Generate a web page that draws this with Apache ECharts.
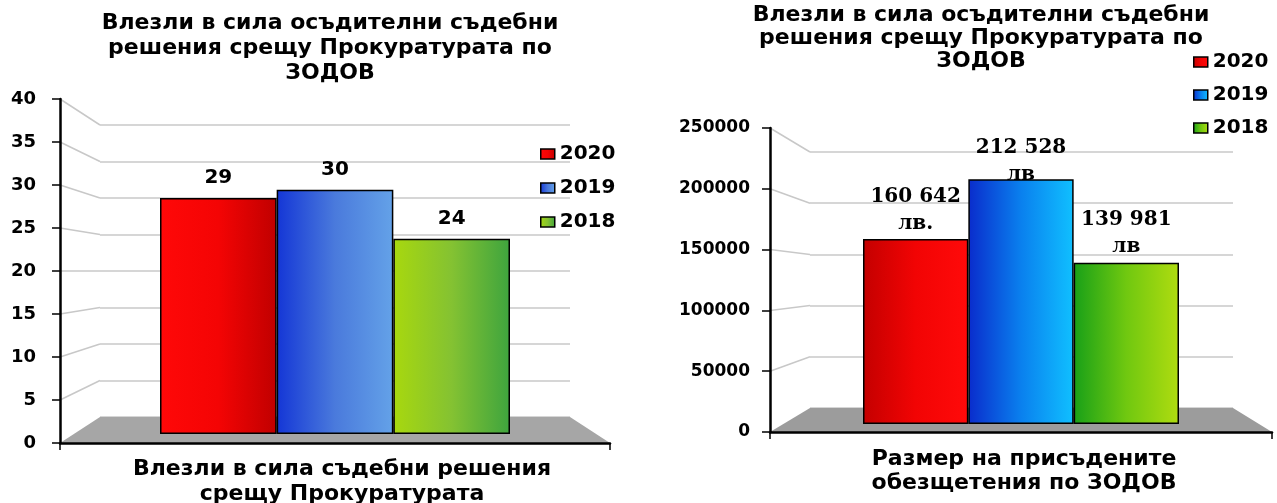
<!DOCTYPE html>
<html>
<head>
<meta charset="utf-8">
<script src="https://cdn.jsdelivr.net/npm/echarts@6/dist/echarts.min.js"></script>
<style>
  html, body { margin: 0; padding: 0; background: #fff; }
  #main { width: 1277px; height: 503px; }
</style>
</head>
<body>
<div id="main"></div>
<script>
// данни
const yearNames = ['2020', '2019', '2018'];
const countValues = [29, 30, 24];
const amountValues = [160642, 212528, 139981];
const amountLabels = ['160 642\nлв.', '212 528\nлв', '139 981\nлв'];
const countTicks = [0, 5, 10, 15, 20, 25, 30, 35, 40];
const amountTicks = [0, 50000, 100000, 150000, 200000, 250000];

const SANS = '"DejaVu Sans", sans-serif';
const SERIF = '"DejaVu Serif", serif';

function grad(stops) {
  return new echarts.graphic.LinearGradient(0, 0, 1, 0,
    stops.map((c, i) => ({ offset: i / (stops.length - 1), color: c })));
}

const leftColors = [
  ['#ff0808', '#f40404', '#c00000'],
  ['#1436d6', '#4a7adc', '#64a2e8'],
  ['#a8d80e', '#84c232', '#3ea43e']
];
const rightColors = [
  ['#c40000', '#f20404', '#ff0a0a'],
  ['#0a2ccc', '#0a80ee', '#10c0ff'],
  ['#18a018', '#70c810', '#b0dc10']
];
const rightLabelDist = [2, -9, 2];

const chart = echarts.init(document.getElementById('main'));

const frontY = (min, max, interval, fontSize, margin) => ({
  type: 'value', min: min, max: max, interval: interval, z: 3,
  axisLine: { show: true, lineStyle: { color: '#000', width: 2.5 } },
  axisTick: { show: true, length: 8, lineStyle: { color: '#000', width: 1.5 } },
  axisLabel: { color: '#000', fontFamily: SANS, fontWeight: 'bold', fontSize: fontSize, margin: margin,
    formatter: v => String(v) },
  splitLine: { show: false }
});
const frontX = {
  type: 'value', min: 0, max: 1, interval: 1, z: 3,
  axisLine: { show: true, lineStyle: { color: '#000', width: 2.5 } },
  axisTick: { show: true, length: 7, lineStyle: { color: '#000', width: 1.5 } },
  axisLabel: { show: false }, splitLine: { show: false }
};
const backY = (min, max, interval) => ({
  type: 'value', min: min, max: max, interval: interval,
  axisLine: { show: false }, axisTick: { show: false }, axisLabel: { show: false },
  splitLine: { show: true, lineStyle: { color: '#c8c8c8', width: 1.5 } }
});
const backX = { type: 'value', min: 0, max: 1, show: false };
const barX = { type: 'category', data: [''], show: false };
const barY = (max) => ({ type: 'value', min: 0, max: max, show: false });

const series = [];
yearNames.forEach((name, i) => {
  series.push({
    name: name, type: 'bar', xAxisIndex: 2, yAxisIndex: 2,
    barGap: '0%', barCategoryGap: '0%',
    data: [countValues[i]],
    itemStyle: { color: grad(leftColors[i]), borderColor: '#000', borderWidth: 1.5 },
    label: { show: true, position: 'top', distance: 10, color: '#000',
      fontFamily: SANS, fontWeight: 'bold', fontSize: 20 }
  });
});
yearNames.forEach((name, i) => {
  series.push({
    name: name, type: 'bar', xAxisIndex: 5, yAxisIndex: 5,
    barGap: '0%', barCategoryGap: '0%',
    data: [amountValues[i]],
    itemStyle: { color: grad(rightColors[i]), borderColor: '#000', borderWidth: 1.5 },
    label: { show: true, position: 'top', distance: rightLabelDist[i], color: '#000',
      fontFamily: SERIF, fontWeight: 'bold', fontSize: 20, lineHeight: 27,
      formatter: () => amountLabels[i] }
  });
});

const titleStyle = { color: '#000', fontFamily: SANS, fontWeight: 'bold', fontSize: 22, lineHeight: 24 };
const mainTitle = 'Влезли в сила осъдителни съдебни\nрешения срещу Прокуратурата по\nЗОДОВ';

const option = {
  animation: false,
  title: [
    { text: mainTitle, left: 325, top: 6, textAlign: 'center',
      textStyle: Object.assign({}, titleStyle, { lineHeight: 25 }) },
    { text: mainTitle, left: 976, top: -1, textAlign: 'center',
      textStyle: Object.assign({}, titleStyle, { lineHeight: 23 }) },
    { text: 'Влезли в сила съдебни решения\nсрещу Прокуратурата', left: 337, top: 452, textAlign: 'center',
      textStyle: Object.assign({}, titleStyle, { lineHeight: 25 }) },
    { text: 'Размер на присъдените\nобезщетения по ЗОДОВ', left: 1019, top: 442, textAlign: 'center',
      textStyle: titleStyle }
  ],
  legend: [
    {
      orient: 'vertical', left: 535, top: 139, itemGap: 14,
      itemWidth: 14, itemHeight: 10, icon: 'rect', selectedMode: false,
      textStyle: { color: '#000', fontFamily: SANS, fontWeight: 'bold', fontSize: 20 },
      data: yearNames.map((n, i) => ({ name: n, itemStyle: { color: grad(leftColors[i]), borderColor: '#000', borderWidth: 1.5 } }))
    },
    {
      orient: 'vertical', left: 1188, top: 47, itemGap: 13,
      itemWidth: 14, itemHeight: 10, icon: 'rect', selectedMode: false,
      textStyle: { color: '#000', fontFamily: SANS, fontWeight: 'bold', fontSize: 20 },
      data: yearNames.map((n, i) => ({ name: n, itemStyle: { color: grad(rightColors[i]), borderColor: '#000', borderWidth: 1.5 } }))
    }
  ],
  grid: [
    { left: 60, top: 99, width: 550, height: 344 },
    { left: 100, top: 125, width: 470, height: 292 },
    { left: 160, top: 108.4, width: 350, height: 325.6 },
    { left: 770, top: 128, width: 502, height: 304 },
    { left: 810, top: 152, width: 423, height: 256 },
    { left: 863, top: 136, width: 316, height: 288 }
  ],
  xAxis: [
    Object.assign({ gridIndex: 0 }, frontX),
    Object.assign({ gridIndex: 1 }, backX),
    Object.assign({ gridIndex: 2 }, barX),
    Object.assign({ gridIndex: 3 }, frontX),
    Object.assign({ gridIndex: 4 }, backX),
    Object.assign({ gridIndex: 5 }, barX)
  ],
  yAxis: [
    Object.assign({ gridIndex: 0 }, frontY(countTicks[0], countTicks[countTicks.length - 1], countTicks[1] - countTicks[0], 18, 24)),
    Object.assign({ gridIndex: 1 }, backY(countTicks[0], countTicks[countTicks.length - 1], countTicks[1] - countTicks[0])),
    Object.assign({ gridIndex: 2 }, barY(countTicks[countTicks.length - 1])),
    Object.assign({ gridIndex: 3 }, frontY(amountTicks[0], amountTicks[amountTicks.length - 1], amountTicks[1] - amountTicks[0], 17, 20)),
    Object.assign({ gridIndex: 4 }, backY(amountTicks[0], amountTicks[amountTicks.length - 1], amountTicks[1] - amountTicks[0])),
    Object.assign({ gridIndex: 5 }, barY(amountTicks[amountTicks.length - 1]))
  ],
  series: series
};

chart.setOption(option);

// под и диагонални линии на "3D" стените, изчислени от осите
function decor(front, back, ticks, floorColor) {
  const px = (idx, v) => chart.convertToPixel({ xAxisIndex: idx }, v);
  const py = (idx, v) => chart.convertToPixel({ yAxisIndex: idx }, v);
  const xf0 = px(front, 0), xf1 = px(front, 1);
  const xb0 = px(back, 0), xb1 = px(back, 1);
  const els = [{
    type: 'polygon', z: 1,
    shape: { points: [[xf0, py(front, ticks[0])], [xb0, py(back, ticks[0])], [xb1, py(back, ticks[0])], [xf1, py(front, ticks[0])]] },
    style: { fill: floorColor }
  }];
  ticks.slice(1).forEach(v => {
    els.push({
      type: 'line', z: 1,
      shape: { x1: xf0, y1: py(front, v), x2: xb0, y2: py(back, v) },
      style: { stroke: '#c8c8c8', lineWidth: 1.5 }
    });
  });
  return els;
}

chart.setOption({ graphic: decor(0, 1, countTicks, '#a6a6a6').concat(decor(3, 4, amountTicks, '#9c9c9c')) });
</script>
</body>
</html>
